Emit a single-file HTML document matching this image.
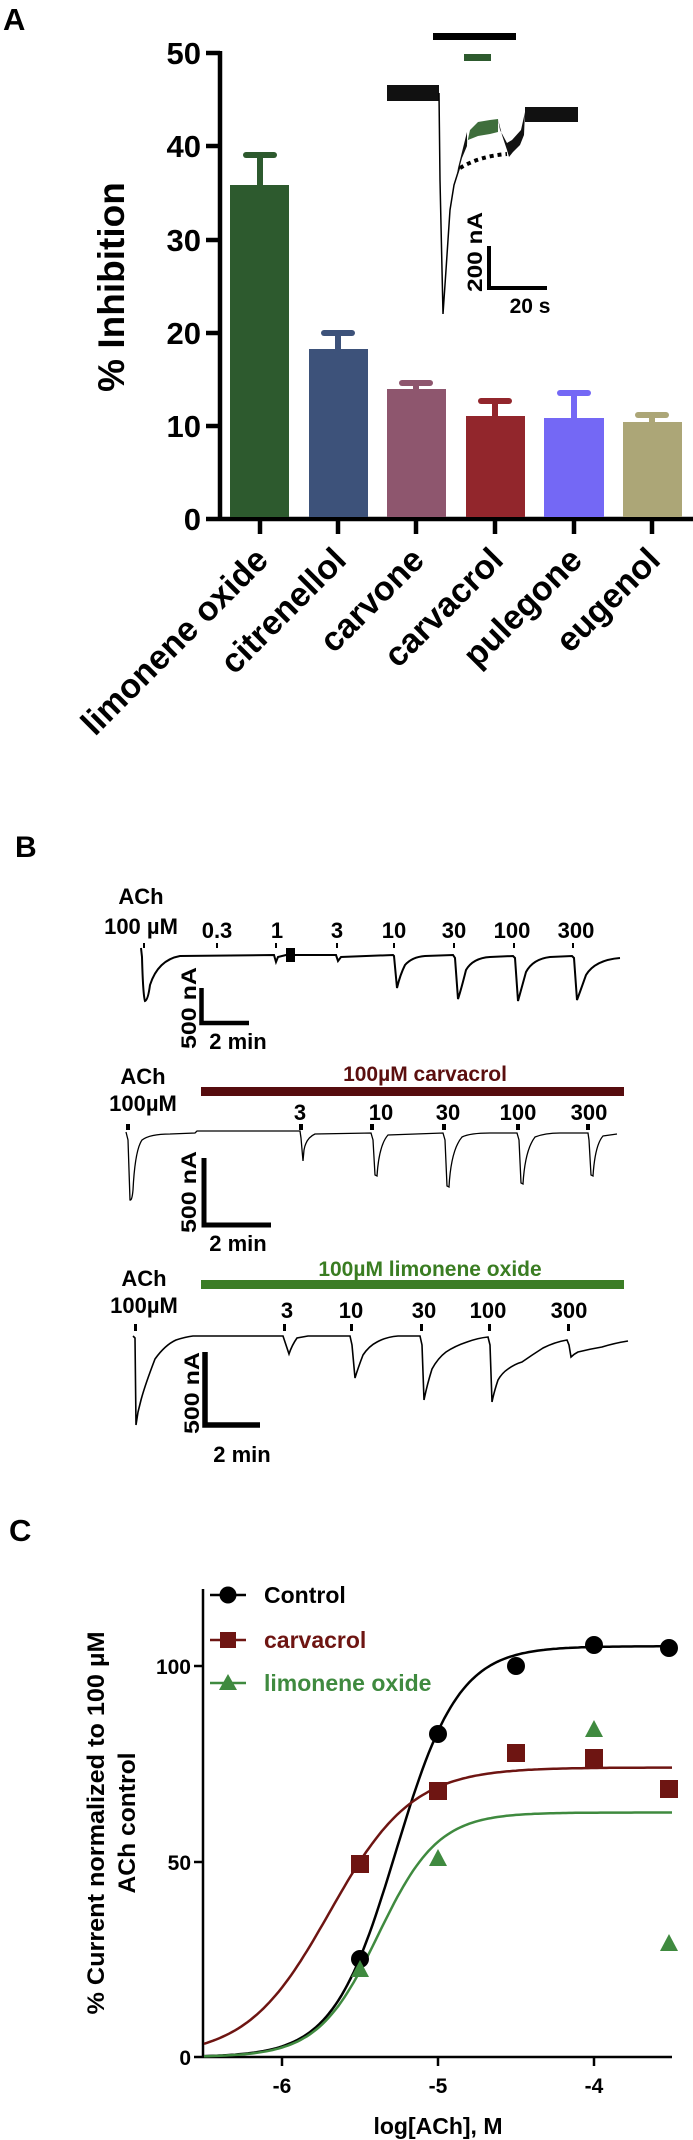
<!DOCTYPE html>
<html><head><meta charset="utf-8"><style>
html,body{margin:0;padding:0;background:#fff;}
svg{display:block;}
text{font-family:"Liberation Sans",Arial,sans-serif;font-weight:bold;}
.n{font-family:"Liberation Sans Narrow","Liberation Sans",sans-serif;}
</style></head><body>
<svg width="693" height="2140" viewBox="0 0 693 2140" xmlns="http://www.w3.org/2000/svg">
<!-- Panel A -->
<text x="3" y="30" font-size="31">A</text>
<g font-size="31" text-anchor="end">
<text x="201" y="64">50</text><text x="201" y="157">40</text><text x="201" y="251">30</text>
<text x="201" y="344">20</text><text x="201" y="437">10</text><text x="201" y="530">0</text>
</g>
<g stroke="#000" stroke-width="4.5">
<line x1="220" y1="51" x2="220" y2="521"/>
<line x1="206" y1="53" x2="220" y2="53"/><line x1="206" y1="146" x2="220" y2="146"/>
<line x1="206" y1="240" x2="220" y2="240"/><line x1="206" y1="333" x2="220" y2="333"/>
<line x1="206" y1="426" x2="220" y2="426"/><line x1="206" y1="519" x2="693" y2="519"/>
<line x1="260" y1="519" x2="260" y2="534"/><line x1="338" y1="519" x2="338" y2="534"/>
<line x1="416" y1="519" x2="416" y2="534"/><line x1="495" y1="519" x2="495" y2="534"/>
<line x1="574" y1="519" x2="574" y2="534"/><line x1="652" y1="519" x2="652" y2="534"/>
</g>
<text transform="translate(124,287) rotate(-90)" font-size="37" text-anchor="middle">% Inhibition</text>
<!-- bars -->
<g stroke-linecap="round" stroke-width="6">
<rect x="230" y="185" width="59" height="332" fill="#2d5a2e"/>
<line x1="260" y1="185" x2="260" y2="155" stroke="#2d5a2e"/><line x1="246" y1="155" x2="274" y2="155" stroke="#2d5a2e"/>
<rect x="309" y="349" width="59" height="168" fill="#3d527a"/>
<line x1="338" y1="349" x2="338" y2="333" stroke="#3d527a"/><line x1="324" y1="333" x2="352" y2="333" stroke="#3d527a"/>
<rect x="387" y="389" width="59" height="128" fill="#8e566e"/>
<line x1="416" y1="389" x2="416" y2="383" stroke="#8e566e"/><line x1="402" y1="383" x2="430" y2="383" stroke="#8e566e"/>
<rect x="466" y="416" width="59" height="101" fill="#92262c"/>
<line x1="495" y1="416" x2="495" y2="401" stroke="#92262c"/><line x1="481" y1="401" x2="509" y2="401" stroke="#92262c"/>
<rect x="544" y="418" width="60" height="99" fill="#7468f5"/>
<line x1="574" y1="418" x2="574" y2="393" stroke="#7468f5"/><line x1="560" y1="393" x2="588" y2="393" stroke="#7468f5"/>
<rect x="623" y="422" width="59" height="95" fill="#aca677"/>
<line x1="652" y1="422" x2="652" y2="415" stroke="#aca677"/><line x1="638" y1="415" x2="666" y2="415" stroke="#aca677"/>
</g>
<g font-size="34" text-anchor="end">
<text transform="translate(270,562) rotate(-45)">limonene oxide</text>
<text transform="translate(348,562) rotate(-45)">citrenellol</text>
<text transform="translate(426,562) rotate(-45)">carvone</text>
<text transform="translate(505,562) rotate(-45)">carvacrol</text>
<text transform="translate(584,562) rotate(-45)">pulegone</text>
<text transform="translate(662,562) rotate(-45)">eugenol</text>
</g>
<!-- inset -->
<rect x="433" y="33" width="83" height="7" fill="#000"/>
<rect x="464" y="54" width="27" height="7" fill="#2d5a2e"/>
<rect x="387" y="85" width="52" height="16" fill="#111"/>
<path d="M439,93 L440,180 L443,314 L446,270 L450,210 L454,185 L460,166" fill="none" stroke="#000" stroke-width="1.5"/>
<path d="M456,180 L462,158 L467,146 L467,132 L458,168 Z" fill="#111"/>
<path d="M466,148 L470,130 L478,122 L490,120 L498,119 L498,132 L490,134 L478,136 L468,140 Z" fill="#3f6e3c"/>
<path d="M498,119 L502,135 L507,150 L509,157 L513,152 L520,145 L524,135 L525,112 L521,130 L512,140 L507,143 L500,130 Z" fill="#111"/>
<rect x="525" y="107" width="53" height="15" fill="#111"/>
<path d="M460,168 Q480,156 507,154" fill="none" stroke="#000" stroke-width="4" stroke-dasharray="4,4"/>
<path d="M489,246 L489,288 L547,288" fill="none" stroke="#000" stroke-width="4"/>
<text transform="translate(482,252) rotate(-90)" font-size="21" text-anchor="middle" textLength="80" lengthAdjust="spacingAndGlyphs">200 nA</text>
<text x="530" y="313" font-size="21" text-anchor="middle">20 s</text>

<!-- Panel B -->
<text x="15" y="857" font-size="30">B</text>
<g font-size="22" text-anchor="middle" class="n">
<text x="141" y="904">ACh</text><text x="141" y="934">100 µM</text>
<text x="217" y="938">0.3</text><text x="277" y="938">1</text><text x="337" y="938">3</text>
<text x="394" y="938">10</text><text x="454" y="938">30</text><text x="512" y="938">100</text><text x="576" y="938">300</text>
</g>
<g fill="#000">
<rect x="143" y="943" width="2" height="5"/><rect x="216" y="943" width="2" height="5"/><rect x="275" y="943" width="2" height="5"/>
<rect x="336" y="943" width="2" height="5"/><rect x="393" y="943" width="2" height="5"/><rect x="453" y="943" width="2" height="5"/>
<rect x="513" y="943" width="2" height="5"/><rect x="572" y="943" width="2" height="5"/>
<rect x="286" y="948" width="9" height="14"/>
</g>
<path d="M141,948 L142,957 Q143,995 145,1001 Q148,1000 150,985 Q158,960 180,956 L274,955 L276,962 L278,957 L286,955 L336,955 L338,961 L341,957 L393,955 L394,956 L397,988 Q400,975 405,965 Q412,957 425,956 L453,955 L455,958 L458,999 Q461,990 466,970 Q473,958 490,957 L513,956 L515,958 L518,1001 Q521,990 526,972 Q533,959 550,957 L572,956 L574,958 L577,1000 Q580,992 586,975 Q595,960 620,958" fill="none" stroke="#000" stroke-width="2"/>
<path d="M201.5,988 L201.5,1023 L249,1023" fill="none" stroke="#000" stroke-width="4.5"/>
<text transform="translate(196,1008) rotate(-90)" font-size="21" text-anchor="middle" textLength="82" lengthAdjust="spacingAndGlyphs" class="n">500 nA</text>
<text x="238" y="1049" font-size="22" text-anchor="middle" class="n">2 min</text>

<!-- trace 2 -->
<g font-size="22" text-anchor="middle" class="n">
<text x="143" y="1084">ACh</text><text x="143" y="1111">100µM</text>
<text x="300" y="1120">3</text><text x="381" y="1120">10</text><text x="448" y="1120">30</text><text x="518" y="1120">100</text><text x="589" y="1120">300</text>
</g>
<text x="425" y="1081" font-size="21" text-anchor="middle" fill="#5b0f0f">100µM carvacrol</text>
<rect x="201" y="1087" width="423" height="9" fill="#560c0e"/>
<g fill="#000">
<rect x="126" y="1124" width="4" height="6"/><rect x="299" y="1124" width="4" height="6"/><rect x="370" y="1124" width="4" height="6"/>
<rect x="442" y="1124" width="4" height="6"/><rect x="516" y="1124" width="4" height="6"/><rect x="586" y="1124" width="4" height="6"/>
</g>
<path d="M126,1132 L128,1140 L130,1200 Q132,1201 133,1190 Q135,1150 142,1140 Q150,1134 170,1134 L195,1133 L197,1131 L300,1131 L301,1138 L303,1161 L304,1150 Q306,1138 315,1134 L371,1133 L373,1140 L375,1175 L377,1176 Q379,1145 388,1135 L443,1133 L445,1140 L447,1186 L449,1187 Q451,1150 462,1137 Q470,1133 490,1133 L517,1133 L519,1140 L521,1183 L523,1184 Q525,1150 535,1137 Q545,1133 560,1133 L588,1133 L589,1140 L591,1175 L593,1176 Q595,1145 603,1136 L617,1134" fill="none" stroke="#000" stroke-width="1.3"/>
<path d="M204,1158 L204,1225 L271,1225" fill="none" stroke="#000" stroke-width="5"/>
<text transform="translate(196,1192) rotate(-90)" font-size="21" text-anchor="middle" textLength="82" lengthAdjust="spacingAndGlyphs" class="n">500 nA</text>
<text x="238" y="1251" font-size="22" text-anchor="middle" class="n">2 min</text>

<!-- trace 3 -->
<g font-size="22" text-anchor="middle">
<text x="144" y="1286">ACh</text><text x="144" y="1313">100µM</text>
<text x="287" y="1318">3</text><text x="351" y="1318">10</text><text x="424" y="1318">30</text><text x="488" y="1318">100</text><text x="569" y="1318">300</text>
</g>
<text x="430" y="1276" font-size="21" text-anchor="middle" fill="#3a7d22">100µM limonene oxide</text>
<rect x="201" y="1280" width="423" height="9" fill="#3b7d25"/>
<g fill="#000">
<rect x="134" y="1324" width="3" height="7"/><rect x="283" y="1324" width="3" height="7"/><rect x="350" y="1324" width="3" height="7"/>
<rect x="420" y="1324" width="3" height="7"/><rect x="488" y="1324" width="3" height="7"/><rect x="567" y="1324" width="3" height="7"/>
</g>
<path d="M133,1336 L135,1338 L136,1425 L138,1412 L141,1400 Q145,1385 155,1359 Q165,1345 176,1340 Q185,1337 193,1336 L283,1336 L286,1345 L289,1354 Q292,1345 297,1338 L308,1336 L350,1336 L352,1345 L355,1378 Q358,1368 363,1355 Q369,1346 377,1342 Q386,1337 398,1336 L420,1336 L422,1345 L424,1400 Q427,1385 432,1369 Q438,1358 446,1352 Q455,1346 467,1342 Q478,1338 488,1337 L490,1345 L492,1402 Q494,1392 498,1380 Q502,1373 508,1369 Q515,1364 522,1362 Q532,1355 543,1348 Q555,1342 567,1340 L569,1345 L571,1357 Q574,1354 578,1352 Q590,1349 602,1347 Q615,1343 628,1341" fill="none" stroke="#000" stroke-width="1.6"/>
<path d="M205,1352 L205,1425 L260,1425" fill="none" stroke="#000" stroke-width="5.5"/>
<text transform="translate(199,1393) rotate(-90)" font-size="21" text-anchor="middle" textLength="82" lengthAdjust="spacingAndGlyphs" class="n">500 nA</text>
<text x="242" y="1462" font-size="22" text-anchor="middle">2 min</text>

<!-- Panel C -->
<text x="9" y="1541" font-size="31">C</text>
<g stroke="#000" stroke-width="2.5">
<line x1="203" y1="1589" x2="203" y2="2058"/>
<line x1="194" y1="1666" x2="203" y2="1666"/><line x1="194" y1="1862" x2="203" y2="1862"/>
<line x1="194" y1="2057" x2="672" y2="2057"/>
<line x1="282" y1="2057" x2="282" y2="2066"/><line x1="438" y1="2057" x2="438" y2="2066"/><line x1="594" y1="2057" x2="594" y2="2066"/>
</g>
<g font-size="21" text-anchor="end">
<text x="191" y="1674">100</text><text x="191" y="1870">50</text><text x="191" y="2065">0</text>
</g>
<g font-size="21" text-anchor="middle">
<text x="282" y="2093">-6</text><text x="438" y="2093">-5</text><text x="594" y="2093">-4</text>
</g>
<text x="438" y="2134" font-size="23" text-anchor="middle">log[ACh], M</text>
<text transform="translate(104,1823) rotate(-90)" font-size="24" text-anchor="middle" textLength="383" lengthAdjust="spacingAndGlyphs" class="n">% Current normalized to 100 µM</text>
<text transform="translate(135,1823) rotate(-90)" font-size="24" text-anchor="middle" textLength="141" lengthAdjust="spacingAndGlyphs" class="n">ACh control</text>
<path id="cA" fill="none" stroke="#000" stroke-width="2.5"/>
<path id="cB" fill="none" stroke="#6e1512" stroke-width="2.5"/>
<path id="cC" fill="none" stroke="#3f8a3f" stroke-width="2.5"/>
<!-- legend -->
<line x1="210" y1="1595" x2="246" y2="1595" stroke="#000" stroke-width="2.5"/><circle cx="228" cy="1595" r="8.5" fill="#000"/>
<text x="264" y="1603" font-size="23">Control</text>
<line x1="210" y1="1640" x2="246" y2="1640" stroke="#6e1512" stroke-width="2.5"/><rect x="220" y="1632" width="16" height="16" fill="#6e1512"/>
<text x="264" y="1648" font-size="23" fill="#6e1512">carvacrol</text>
<line x1="210" y1="1683" x2="246" y2="1683" stroke="#3f8a3f" stroke-width="2.5"/><polygon points="228,1674 237,1690 219,1690" fill="#3f8a3f"/>
<text x="264" y="1691" font-size="23" fill="#3f8a3f">limonene oxide</text>
<!-- markers -->
<g fill="#000">
<circle cx="360" cy="1959" r="9"/><circle cx="438" cy="1734" r="9"/><circle cx="516" cy="1666" r="9"/><circle cx="594" cy="1645" r="9"/><circle cx="669" cy="1648" r="9"/>
</g>
<g fill="#6e1512">
<rect x="351" y="1855" width="18" height="18"/><rect x="429" y="1782" width="18" height="18"/><rect x="507" y="1744" width="18" height="18"/><rect x="585" y="1749" width="18" height="18"/><rect x="660" y="1780" width="18" height="18"/>
</g>
<g fill="#3f8a3f">
<polygon points="360,1960 369,1977 351,1977"/><polygon points="438,1849 447,1866 429,1866"/><polygon points="594,1720 603,1737 585,1737"/><polygon points="669,1934 678,1951 660,1951"/>
</g>
</svg>
<script>
function curve(id,top,ec,n){var d="";for(var i=0;i<=150;i++){var x=-6.5+i*3/150;var v=top/(1+Math.pow(10,(ec-x)*n));var px=204+(x+6.5)*156,py=2057-v*3.912;d+=(i?"L":"M")+px.toFixed(1)+","+py.toFixed(1);}document.getElementById(id).setAttribute("d",d);}
curve("cB",74,-5.695,1.64);curve("cC",62.5,-5.383,2.26);curve("cA",105,-5.27,2.16);
</script>
</body></html>
